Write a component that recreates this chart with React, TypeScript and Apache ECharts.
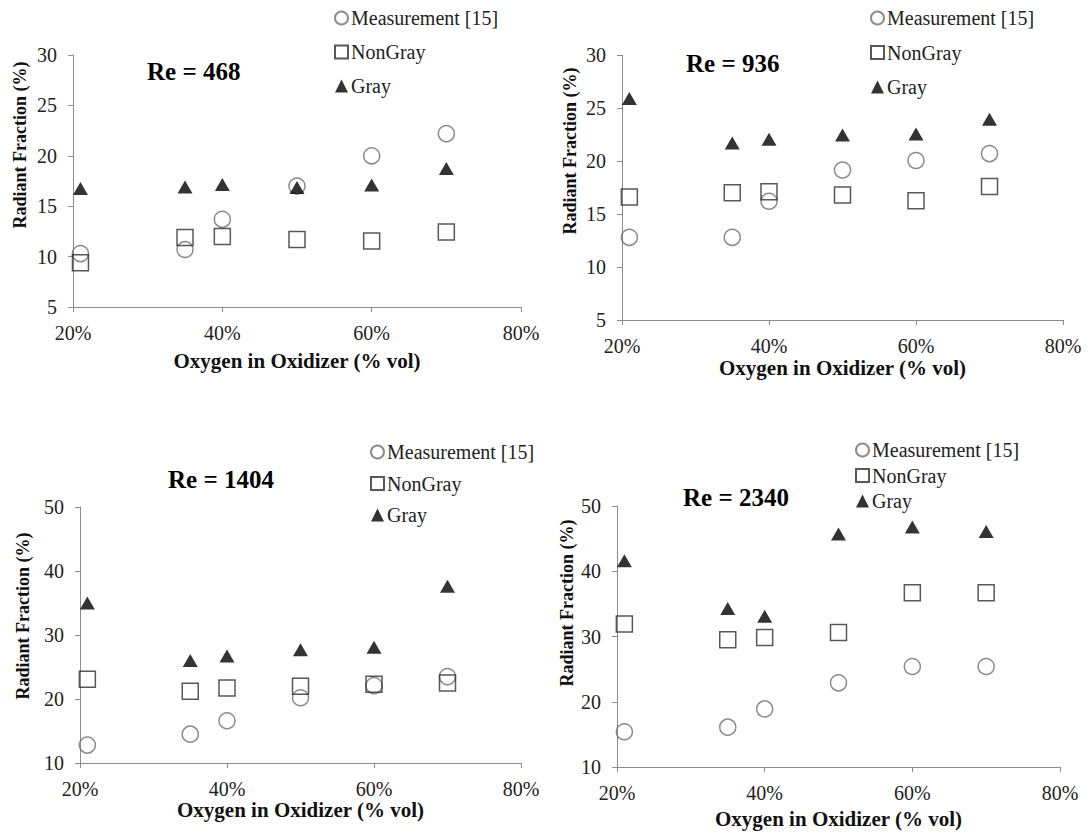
import React, { useEffect, useRef } from "react";
import * as echarts from "echarts";

// ---- data ----
const oxygen = [21, 35, 40, 50, 60, 70];
const xTicks = [20, 40, 60, 80];

const re468Measurement = [10.3, 10.7, 13.7, 17.0, 20.0, 22.2];
const re468NonGray = [9.4, 11.9, 12.0, 11.7, 11.55, 12.45];
const re468Gray = [16.75, 16.9, 17.15, 16.85, 17.1, 18.75];

const re936Measurement = [12.8, 12.8, 16.2, 19.15, 20.05, 20.7];
const re936NonGray = [16.6, 17.0, 17.1, 16.8, 16.25, 17.6];
const re936Gray = [25.9, 21.7, 22.05, 22.45, 22.55, 23.95];

const re1404Measurement = [12.8, 14.5, 16.6, 20.2, 22.1, 23.5];
const re1404NonGray = [23.1, 21.2, 21.7, 22.0, 22.3, 22.5];
const re1404Gray = [35.0, 26.0, 26.7, 27.7, 28.1, 37.6];

const re2340Measurement = [15.4, 16.1, 18.9, 22.9, 25.4, 25.4];
const re2340NonGray = [31.9, 29.5, 29.85, 30.6, 36.7, 36.7];
const re2340Gray = [41.6, 34.3, 33.1, 45.7, 46.8, 46.1];

const seriesNames = ["Measurement [15]", "NonGray", "Gray"];
const panelTitles = ["Re = 468", "Re = 936", "Re = 1404", "Re = 2340"];
const yTitle = "Radiant Fraction (%)";
const xTitle = "Oxygen in Oxidizer (% vol)";

const panels = [
  { values: [re468Measurement, re468NonGray, re468Gray], yMin: 5, yMax: 30, yStep: 5 },
  { values: [re936Measurement, re936NonGray, re936Gray], yMin: 5, yMax: 30, yStep: 5 },
  { values: [re1404Measurement, re1404NonGray, re1404Gray], yMin: 10, yMax: 50, yStep: 10 },
  { values: [re2340Measurement, re2340NonGray, re2340Gray], yMin: 10, yMax: 50, yStep: 10 },
];

// ---- layout ----
const FONT = "Liberation Serif";
const grids = [
  { left: 73, top: 55, width: 448, height: 252 },
  { left: 622, top: 55, width: 441, height: 265 },
  { left: 80, top: 507, width: 441, height: 256 },
  { left: 617, top: 506, width: 443, height: 261 },
];
const xNameGaps = [43, 37, 34, 41];
const titlePos = [
  { left: 147, top: 59 },
  { left: 686, top: 51 },
  { left: 168, top: 467 },
  { left: 683, top: 485 },
];
const legendPos = [
  { left: 334, top: 8, gap: 14 },
  { left: 870, top: 8, gap: 14.5 },
  { left: 370, top: 442, gap: 11.5 },
  { left: 855, top: 440, gap: 5.5 },
];
const yTitlePos = [
  { x: 20, y: 145 },
  { x: 570, y: 151 },
  { x: 23, y: 616 },
  { x: 567, y: 603 },
];

const symbolStyles = [
  { symbol: "circle", symbolSize: 16, itemStyle: { color: "rgba(255,255,255,0)", borderColor: "#6e6e6e", borderWidth: 1.5 } },
  { symbol: "rect", symbolSize: 16, itemStyle: { color: "rgba(255,255,255,0)", borderColor: "#2e2e2e", borderWidth: 1.5 } },
  { symbol: "triangle", symbolSize: [15, 13], itemStyle: { color: "#000", borderWidth: 0 } },
];

export default function App() {
  const ref = useRef<HTMLDivElement>(null);
  useEffect(() => {
    if (!ref.current) return;
    const chart = echarts.init(ref.current, undefined, { renderer: "svg" });

    const xAxis = grids.map((_, i) => ({
      type: "value",
      gridIndex: i,
      min: xTicks[0],
      max: xTicks[xTicks.length - 1],
      interval: 20,
      name: xTitle,
      nameLocation: "middle",
      nameGap: xNameGaps[i],
      nameTextStyle: { fontFamily: FONT, fontSize: 21, fontWeight: "bold", color: "#111" },
      axisLine: { show: true, lineStyle: { color: "#8c8c8c", width: 1 } },
      axisTick: { show: true, length: 5, lineStyle: { color: "#8c8c8c" } },
      splitLine: { show: false },
      axisLabel: { fontFamily: FONT, fontWeight: "normal", fontSize: 20, color: "#222", margin: 16, formatter: "{value}%" },
    }));

    const yAxis = grids.map((_, i) => ({
      type: "value",
      gridIndex: i,
      min: panels[i].yMin,
      max: panels[i].yMax,
      interval: panels[i].yStep,
      axisLine: { show: true, lineStyle: { color: "#8c8c8c", width: 1 } },
      axisTick: { show: true, length: 5, lineStyle: { color: "#8c8c8c" } },
      splitLine: { show: false },
      axisLabel: { fontFamily: FONT, fontWeight: "normal", fontSize: 20, color: "#222", margin: 16 },
    }));

    const series: any[] = [];
    panels.forEach((p, i) => {
      p.values.forEach((vals, k) => {
        series.push({
          type: "scatter",
          name: seriesNames[k],
          xAxisIndex: i,
          yAxisIndex: i,
          data: oxygen.map((x, j) => [x, vals[j]]),
          ...symbolStyles[k],
          z: 2 + k,
        });
      });
    });

    const legend = legendPos.map((l) => ({
      orient: "vertical",
      left: l.left,
      top: l.top,
      itemGap: l.gap,
      itemWidth: 13,
      itemHeight: 13,
      padding: 0,
      selectedMode: false,
      data: seriesNames.map((n) => ({ name: n })),
      textStyle: { fontFamily: FONT, fontWeight: "normal", fontSize: 20, color: "#222", padding: [0, 0, 0, -2] },
    }));

    const title = panelTitles.map((t, i) => ({
      text: t,
      left: titlePos[i].left,
      top: titlePos[i].top,
      padding: 0,
      textStyle: { fontFamily: FONT, fontSize: 25, fontWeight: "bold", color: "#000" },
    }));

    const graphic = yTitlePos.map((p) => ({
      type: "text",
      x: p.x,
      y: p.y,
      rotation: Math.PI / 2,
      style: {
        text: yTitle,
        align: "center",
        verticalAlign: "middle",
        fontFamily: FONT,
        fontSize: 18,
        fontWeight: "bold",
        fill: "#111",
      },
    }));

    chart.setOption({
      animation: false,
      backgroundColor: "#fff",
      title,
      legend,
      grid: grids,
      xAxis,
      yAxis,
      series,
      graphic,
    });
    return () => chart.dispose();
  }, []);

  return (
    <div
      ref={ref}
      style={{ position: "fixed", left: 0, top: 0, width: 1091, height: 837, background: "#fff" }}
    />
  );
}
